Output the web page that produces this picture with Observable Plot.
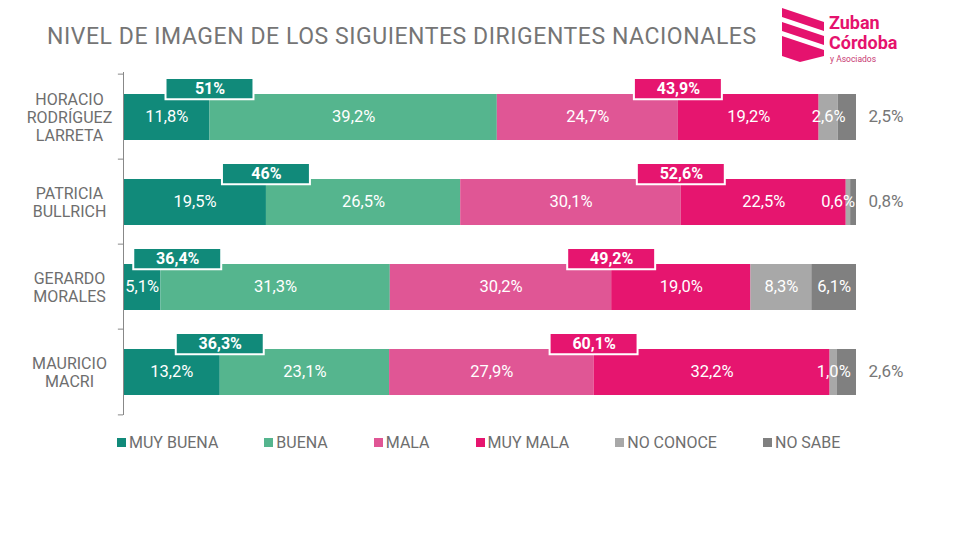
<!DOCTYPE html>
<html><head><meta charset="utf-8">
<script src="https://cdn.jsdelivr.net/npm/d3@7"></script>
<script src="https://cdn.jsdelivr.net/npm/@observablehq/plot@0.6"></script>
<style>
body{margin:0;background:#fff;font-family:Roboto,"Noto Sans",sans-serif;}
#wrap{position:relative;width:960px;height:540px;overflow:hidden;background:#fff;}
#title{position:absolute;left:47px;top:23px;font-size:23px;color:#757575;white-space:nowrap;letter-spacing:0.55px;}
#chart{position:absolute;left:0;top:60px;z-index:1;}
#legend{position:absolute;left:117px;top:433px;display:flex;gap:46px;font-size:16px;line-height:19px;color:#6e6e6e;}
#legend span.sw{display:inline-block;width:9px;height:9px;margin-right:3px;vertical-align:1px;}
#logo{position:absolute;left:775px;top:4px;z-index:2;}
</style></head>
<body><div id="wrap">
<div id="title">NIVEL DE IMAGEN DE LOS SIGUIENTES DIRIGENTES NACIONALES</div>
<svg id="logo" width="180" height="66" viewBox="775 4 180 66">
  <polygon points="782,8 824,22 824,31 782,17" fill="#e5126e"/>
  <polygon points="782,22 824,36 824,45 782,31" fill="#e5126e"/>
  <polygon points="782,36 824,50 824,56 800,62 782,56" fill="#e5126e"/>
  <text x="829" y="29" fill="#e5126e" font-size="18" font-weight="bold" font-family="Roboto,sans-serif">Zuban</text>
  <text x="829" y="49" fill="#e5126e" font-size="18" font-weight="bold" font-family="Roboto,sans-serif">Córdoba</text>
  <text x="830" y="62" fill="#c83a72" font-size="8.5" font-family="Roboto,sans-serif">y Asociados</text>
</svg>
<div id="chart"></div>
<div id="legend"></div>
</div>
<script>
const names = ["HORACIO\nRODRÍGUEZ\nLARRETA", "PATRICIA\nBULLRICH", "GERARDO\nMORALES", "MAURICIO\nMACRI"];
const categories = ["MUY BUENA", "BUENA", "MALA", "MUY MALA", "NO CONOCE", "NO SABE"];
const colors = ["#118a7a", "#55b58e", "#e05695", "#e6156f", "#a8a8a8", "#808080"];
const muyBuena = [11.8, 19.5, 5.1, 13.2];
const buena    = [39.2, 26.5, 31.3, 23.1];
const mala     = [24.7, 30.1, 30.2, 27.9];
const muyMala  = [19.2, 22.5, 19.0, 32.2];
const noConoce = [2.6, 0.6, 8.3, 1.0];
const noSabe   = [2.5, 0.8, 6.1, 2.6];
const positiveTotals = [51, 46, 36.4, 36.3];
const negativeTotals = [43.9, 52.6, 49.2, 60.1];

const series = [muyBuena, buena, mala, muyMala, noConoce, noSabe];
const fmt1 = v => v.toFixed(1).replace(".", ",") + "%";
const fmtT = v => (Number.isInteger(v) ? String(v) : v.toFixed(1).replace(".", ",")) + "%";

const rows = [];
names.forEach((n, i) => {
  let acc = 0;
  categories.forEach((c, j) => {
    const v = series[j][i];
    rows.push({name: n, cat: c, v, x1: acc, x2: acc + v, j});
    acc += v;
  });
});
const isOutside = d => d.cat === "NO SABE" && d.v < 4;
const inside = rows.filter(d => !isOutside(d));
const outside = rows.filter(isOutside);

const boxes = [];
names.forEach((n, i) => {
  boxes.push({name: n, c: Math.max(muyBuena[i], 7.4), t: positiveTotals[i], color: colors[0]});
  boxes.push({name: n, c: muyBuena[i] + buena[i] + mala[i], t: negativeTotals[i], color: colors[3]});
});

const H = 370, MT = 12, MB = 15;
const step = (H - MT - MB) / names.length;

const chart = Plot.plot({
  width: 960, height: H,
  marginLeft: 123, marginRight: 104, marginTop: MT, marginBottom: MB,
  x: {domain: [0, 100], axis: null},
  y: {domain: names, axis: null, padding: 0},
  color: {domain: categories, range: colors},
  style: {fontFamily: "Roboto, 'Noto Sans', sans-serif", fontSize: "15px", background: "transparent"},
  marks: [
    Plot.barX(rows, {x1: "x1", x2: "x2", y: "name", fill: "cat", insetTop: 20, insetBottom: 19}),
    Plot.text(inside, {x: d => Math.min((d.x1 + d.x2) / 2, 97.5), y: "name", text: d => fmt1(d.v), fill: "white", fontSize: 16.5}),
    Plot.text(outside, {x: 100, y: "name", dx: 12, textAnchor: "start", text: d => fmt1(d.v), fill: "#777", fontSize: 17}),
    Plot.barX(boxes, {x1: d => d.c - 6, x2: d => d.c + 6, y: "name", insetTop: 4, insetBottom: step - 26, fill: d => d.color, stroke: "white", strokeWidth: 2}),
    Plot.text(boxes, {x: "c", y: "name", dy: -28, text: d => fmtT(d.t), fill: "white", fontSize: 16, fontWeight: "bold"}),
    Plot.text(names, {y: d => d, frameAnchor: "left", dx: -54, textAnchor: "middle", lineHeight: 1.14, fill: "#6e6e6e", fontSize: 16}),
    Plot.ruleX([0], {stroke: "#888", strokeWidth: 1}),
    Plot.ruleY(names, {y: d => d, dy: -step / 2, x1: -0.7, x2: 0, stroke: "#888"}),
    Plot.ruleY([names[names.length - 1]], {y: d => d, dy: step / 2, x1: -0.7, x2: 0, stroke: "#888"})
  ]
});
document.getElementById("chart").appendChild(chart);

const legend = document.getElementById("legend");
categories.forEach((c, j) => {
  const item = document.createElement("div");
  item.innerHTML = `<span class="sw" style="background:${colors[j]}"></span>${c}`;
  legend.appendChild(item);
});
</script>
</body></html>
